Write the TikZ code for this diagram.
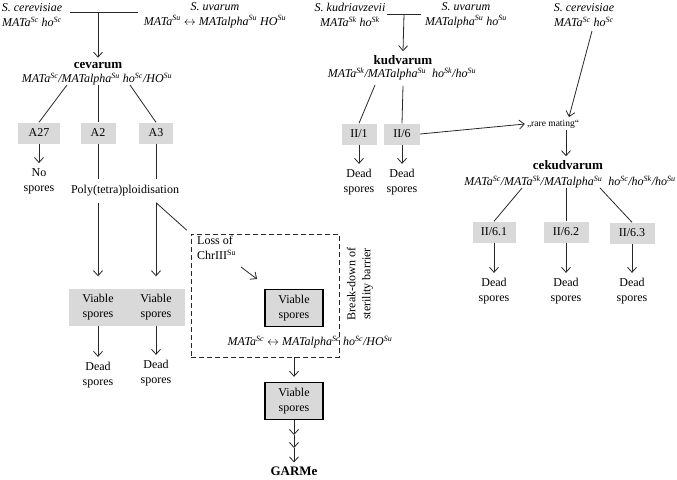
\documentclass[tikz,border=0pt]{standalone}
\usepackage{fontspec}
\setmainfont{Liberation Serif}
\usetikzlibrary{arrows.meta}
\definecolor{boxgray}{RGB}{217,217,217}
\definecolor{lngray}{RGB}{40,40,40}
\newcommand{\spp}[1]{\textsuperscript{#1}}

\begin{document}
\begin{tikzpicture}[%
x={(1pt,0pt)},
y={(0pt,-1pt)},
txt/.style={inner sep=0pt,align=center,font=\fontsize{12}{15}\selectfont},
gen/.style={inner sep=0pt,align=center,font=\fontsize{12}{15}\selectfont\itshape},
dead/.style={txt,inner ysep=5pt},
hyb/.style={inner sep=0pt,inner ysep=4pt,font=\fontsize{13}{15}\selectfont\bfseries},
clone/.style={fill=boxgray,inner sep=0pt,minimum height=21pt,font=\fontsize{12}{15}\selectfont},
spores/.style={fill=boxgray,inner sep=0pt,minimum width=58pt,minimum height=37pt,align=center,font=\fontsize{12}{15}\selectfont},
thick spores/.style={spores,draw=black,line width=1.4pt},
ln/.style={draw=lngray,line width=0.8pt},
arr/.style={ln,-{Straight Barb[length=5pt,width=9pt]}},
]
\useasboundingbox (0,0) rectangle (677,479);

%Eltern links
\node[gen] (scer) at (32,15) {S. cerevisiae\\MATa\spp{Sc} ho\spp{Sc}};
\node[gen] (suv) at (215,15) {S. uvarum\\MATa\spp{Su} $\leftrightarrow$ MATalpha\spp{Su} HO\spp{Su}};
\coordinate (j1) at (70,12);
\coordinate (j2) at (138,12);
\coordinate (jm) at (98,12);

%cevarum
\node[hyb] (cev) at (98,65) {cevarum};
\node[gen] (cevg) at (97,79) {MATa\spp{Sc}/MATalpha\spp{Su} ho\spp{Sc}/HO\spp{Su}};
\coordinate (cl) at (67,85);
\coordinate (cm) at (98,85);
\coordinate (cr) at (130,85);

\node[clone,minimum width=42pt] (a27) at (39,133) {A27};
\node[clone,minimum width=35pt] (a2) at (98,133) {A2};
\node[clone,minimum width=34pt] (a3) at (156,133) {A3};
\node[dead] (nosp) at (39,181) {No\\spores};
\node[txt,inner ysep=6pt] (poly) at (125,191) {Poly(tetra)ploidisation};

\node[spores] (vs1) at (98,307) {Viable\\spores};
\node[spores] (vs2) at (156,307) {Viable\\spores};
\node[dead] (dead1) at (98,375) {Dead\\spores};
\node[dead] (dead2) at (156,373) {Dead\\spores};

%Sterilitaetsbarriere
\node[draw=lngray,dashed,dash pattern=on 5pt off 3pt,line width=0.8pt,inner sep=0pt,
  minimum width=148pt,minimum height=123pt] (brk) at (265,295.5) {};
\node[txt,align=left,anchor=west] (loss) at (197,248) {Loss of\\ChrIII\spp{Su}};
\coordinate (la) at (241,267);
\coordinate (lb) at (257,279);
\node[thick spores] (vin) at (294,308) {Viable\\spores};
\node[gen] (matsc) at (310,342) {MATa\spp{Sc} $\leftrightarrow$ MATalpha\spp{Sc} ho\spp{Sc}/HO\spp{Su}};
\node[txt,rotate=90] (brktxt) at (360,284) {Break-down of\\sterility barrier};
\node[thick spores] (vout) at (294,401) {Viable\\spores};
\coordinate (t1) at (294,435);
\coordinate (t2) at (294,448);
\node[hyb] (garme) at (294,471) {GARMe};

%Eltern rechts
\node[gen] (skud) at (350,15) {S. kudriavzevii\\MATa\spp{Sk} ho\spp{Sk}};
\node[gen] (suv2) at (466,15) {S. uvarum\\MATalpha\spp{Su} ho\spp{Su}};
\node[gen] (scer2) at (584,15) {S. cerevisiae\\MATa\spp{Sc} ho\spp{Sc}};
\coordinate (k1) at (387,14);
\coordinate (k2) at (421,14);
\coordinate (km) at (404,14);

%kudvarum
\node[hyb] (kud) at (403,60) {kudvarum};
\node[gen] (kudg) at (402,74) {MATa\spp{Sk}/MATalpha\spp{Su}~~ho\spp{Sk}/ho\spp{Su}};
\coordinate (kl) at (375,85);
\coordinate (kr) at (403,86);
\node[clone,minimum width=35pt] (ii1) at (359,134) {II/1};
\node[clone,minimum width=36pt] (ii6) at (402,134) {II/6};
\node[dead] (dead3) at (359,182) {Dead\\spores};
\node[dead] (dead4) at (402,182) {Dead\\spores};

%cekudvarum
\node[txt,inner sep=2pt,font=\fontsize{9.5}{11}\selectfont] (rare) at (553,124) {„rare mating“};
\coordinate (s2) at (592,31);
\coordinate (rt) at (569,117);
\node[hyb] (cek) at (568,165) {cekudvarum};
\node[gen] (cekg) at (570,182) {MATa\spp{Sc}/MATa\spp{Sk}/MATalpha\spp{Su}~~ho\spp{Sc}/ho\spp{Sk}/ho\spp{Su}};
\coordinate (el) at (522,188);
\coordinate (er) at (600,188);
\node[clone,minimum width=43pt] (ii61) at (494,232) {II/6.1};
\node[clone,minimum width=45pt] (ii62) at (566,232) {II/6.2};
\node[clone,minimum width=45pt] (ii63) at (632,233) {II/6.3};
\node[dead] (dead5) at (494,291) {Dead\\spores};
\node[dead] (dead6) at (566,291) {Dead\\spores};
\node[dead] (dead7) at (632,291) {Dead\\spores};

%Kanten
\draw[ln] (j1) -- (j2);
\draw[arr] (jm) -- (cev.north);
\draw[ln] (cl) -- (a27.north);
\draw[ln] (cm) -- (a2.north);
\draw[ln] (cr) -- (a3.north);
\draw[arr] (a27.south) -- (nosp.north);
\draw[ln] (a2.south) -- (a2 |- poly.north);
\draw[ln] (a3.south) -- (a3 |- poly.north);
\draw[arr,shorten >=12pt] (vs1 |- poly.south) -- (vs1.north);
\draw[arr,shorten >=12pt] (vs2 |- poly.south) -- (vs2.north);
\draw[arr] (vs1.south) -- (dead1.north);
\draw[arr] (vs2.south) -- (dead2.north);
\draw[ln,shorten >=5pt] (a3 |- poly.south) -- (brk.north west);
\draw[arr] (la) -- (lb);
\draw[arr,shorten >=5pt] (brk.south -| vout) -- (vout.north);
\draw[arr] (vout.south) -- (t1);
\draw[arr] (t1) -- (t2);
\draw[arr] (t2) -- (garme.north);

\draw[ln] (k1) -- (k2);
\draw[arr] (km) -- (kud.north);
\draw[ln] (kl) -- (ii1.north);
\draw[ln] (kr) -- (ii6.north);
\draw[arr] (ii1.south) -- (dead3.north);
\draw[arr] (ii6.south) -- (dead4.north);
\draw[arr] (ii6.east) -- (rare.west);
\draw[arr] (s2) -- (rt);
\draw[arr] (rare.south -| ii62) -- (cek.north -| ii62);
\draw[ln] (el) -- (ii61.north);
\draw[ln] (cekg.south -| ii62) -- (ii62.north);
\draw[ln] (er) -- (ii63.north);
\draw[arr] (ii61.south) -- (dead5.north);
\draw[arr] (ii62.south) -- (dead6.north);
\draw[arr] (ii63.south) -- (dead7.north);

\end{tikzpicture}
\end{document}
